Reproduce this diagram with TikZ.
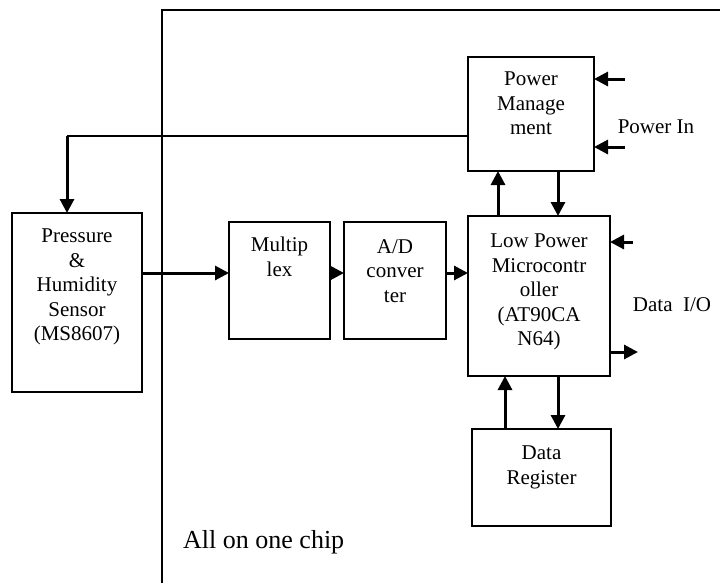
\documentclass[tikz,border=0pt]{standalone}
\usepackage{fontspec}
\setmainfont{Liberation Serif}
\usetikzlibrary{arrows.meta}
\begin{document}
\begin{tikzpicture}[x=1pt,y=-1pt,
  box/.style={draw,line width=2.2pt,inner sep=0pt,outer sep=0pt},
  txt/.style={align=center,inner sep=0pt,font=\fontsize{21}{24.5}\selectfont},
  lbl/.style={inner sep=0pt,font=\fontsize{21}{24.5}\selectfont},
  arr/.style={line width=3pt,-{Triangle[length=14pt,width=14pt]}},
  wire/.style={line width=2.4pt},
  chip/.style={line width=2.2pt}]
\useasboundingbox (0,0) rectangle (720,582);
\fill[white] (0,0) rectangle (720,582);
% chip outline
\coordinate (chipbl) at (162,585);
\coordinate (chiptl) at (162,10);
\coordinate (chiptr) at (722,10);
\draw[chip] (chipbl) -- (chiptl) -- (chiptr);
% boxes
\node[box,minimum width=126pt,minimum height=114pt] (pm) at (531,114) {};
\node[box,minimum width=142pt,minimum height=160pt] (lpm) at (539,296) {};
\node[box,minimum width=139pt,minimum height=97pt] (dr) at (541.5,477.5) {};
\node[box,minimum width=130pt,minimum height=179pt] (sen) at (77,302.5) {};
\node[box,minimum width=101pt,minimum height=117pt] (mux) at (279.5,280.5) {};
\node[box,minimum width=102pt,minimum height=117pt] (ad) at (395,280.5) {};
% box texts
\node[txt,anchor=north] (pmt) at ([yshift=-15pt]pm.north) {Power\\Manage\\ment};
\node[txt,anchor=north] (lpmt) at ([yshift=-18pt]lpm.north) {Low Power\\Microcontr\\oller\\(AT90CA\\N64)};
\node[txt,anchor=north] (drt) at ([yshift=-17pt]dr.north) {Data\\Register};
\node[txt,anchor=north] (sent) at ([yshift=-16pt]sen.north) {Pressure\\\&\\Humidity\\Sensor\\(MS8607)};
\node[txt,anchor=north] (muxt) at ([yshift=-15pt]mux.north) {Multip\\lex};
\node[txt,anchor=north] (adt) at ([yshift=-17pt]ad.north) {A/D\\conver\\ter};
% free labels
\node[lbl] (pin) at (656,127) {Power In};
\node[lbl] (dio) at (672,305) {Data\ \ I/O};
\node[inner sep=0pt,anchor=base west,font=\fontsize{26}{30}\selectfont] (allchip) at (183,548) {All on one chip};
% coordinates
\coordinate (bend) at (67,136);
\coordinate (sig) at (0,273);
\coordinate (pin1) at (625,79);
\coordinate (pin2) at (625,147);
\coordinate (cin) at (633,242);
\coordinate (cout) at (638,352);
\coordinate (up1) at (498,0);
\coordinate (dn1) at (558,0);
\coordinate (up2) at (505,0);
% connectors
\draw[wire] (pm.west |- bend) -- (bend);
\draw[arr] (bend) -- (bend |- sen.north);
\draw[arr] (sen.east |- sig) -- (mux.west |- sig);
\draw[arr] (mux.east |- sig) -- (ad.west |- sig);
\draw[arr] (ad.east |- sig) -- (lpm.west |- sig);
\draw[arr] (lpm.north -| up1) -- (pm.south -| up1);
\draw[arr] (pm.south -| dn1) -- (lpm.north -| dn1);
\draw[arr] (dr.north -| up2) -- (lpm.south -| up2);
\draw[arr] (lpm.south -| dn1) -- (dr.north -| dn1);
\draw[arr] (pin1) -- (pm.east |- pin1);
\draw[arr] (pin2) -- (pm.east |- pin2);
\draw[arr] (cin) -- (lpm.east |- cin);
\draw[arr] (lpm.east |- cout) -- (cout);
\end{tikzpicture}
\end{document}
